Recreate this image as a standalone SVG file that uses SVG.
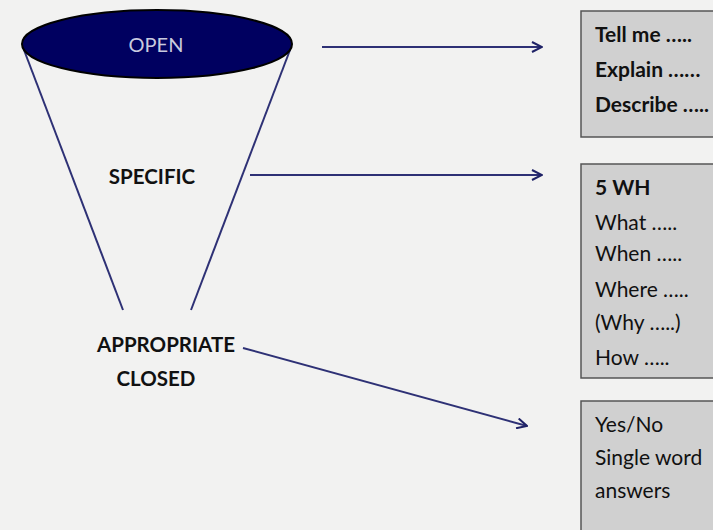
<svg xmlns="http://www.w3.org/2000/svg" width="713" height="530" viewBox="0 0 713 530">
  <style>
    .line { stroke: #2e3175; stroke-width: 2; fill: none; }
    .conn { stroke: #2e3175; stroke-width: 2; fill: none; marker-end: url(#chev); }
    .box { fill: #d0d0d0; stroke: #555555; stroke-width: 1.5; }
    .lbl { font-family: Lato, "Liberation Sans", sans-serif; font-size: 20.5px; font-weight: bold; fill: #111111; text-anchor: middle; }
    .t { font-family: Lato, "Liberation Sans", sans-serif; font-size: 21px; fill: #111111; }
    .b { font-weight: bold; }
  </style>
  <defs>
    <marker id="chev" viewBox="0 0 12 12" refX="11" refY="6" markerWidth="12" markerHeight="12" markerUnits="userSpaceOnUse" orient="auto">
      <path d="M1,1 L11,6 L1,11" fill="none" stroke="#1f2266" stroke-width="2"/>
    </marker>
  </defs>
  <rect width="713" height="530" fill="#f2f2f1"/>

  <!-- funnel sides -->
  <g id="funnel">
    <line class="line" x1="24" y1="50" x2="123" y2="310"/>
    <line class="line" x1="290" y1="50" x2="191" y2="310"/>
  </g>

  <g id="open">
    <ellipse cx="157" cy="44" rx="135" ry="34" fill="#000060" stroke="#000000" stroke-width="2"/>
    <text x="156" y="52" font-family="Lato, 'Liberation Sans', sans-serif" font-size="20" fill="#c8cadf" text-anchor="middle">OPEN</text>
  </g>

  <g id="specific">
    <text class="lbl" x="152" y="184">SPECIFIC</text>
  </g>

  <g id="closed">
    <text class="lbl" x="166" y="352">APPROPRIATE</text>
    <text class="lbl" x="156" y="386">CLOSED</text>
  </g>

  <!-- connectors -->
  <g id="connectors">
    <line class="conn" x1="322" y1="47" x2="542" y2="47"/>
    <line class="conn" x1="250" y1="175" x2="542" y2="175"/>
    <line class="conn" x1="243" y1="348" x2="527" y2="426"/>
  </g>

  <g id="open-box">
    <rect class="box" x="581" y="11" width="140" height="126"/>
    <text class="t b" x="595" y="42">Tell me …..</text>
    <text class="t b" x="595" y="77">Explain ……</text>
    <text class="t b" x="595" y="112">Describe …..</text>
  </g>

  <g id="specific-box">
    <rect class="box" x="581" y="164" width="140" height="214"/>
    <text class="t b" x="595" y="195">5 WH</text>
    <text class="t" x="595" y="230">What …..</text>
    <text class="t" x="595" y="261">When …..</text>
    <text class="t" x="595" y="297">Where …..</text>
    <text class="t" x="595" y="330">(Why …..)</text>
    <text class="t" x="595" y="365">How …..</text>
  </g>

  <g id="closed-box">
    <rect class="box" x="581" y="401" width="140" height="140"/>
    <text class="t" x="595" y="432">Yes/No</text>
    <text class="t" x="595" y="465">Single word</text>
    <text class="t" x="595" y="498">answers</text>
  </g>
</svg>
